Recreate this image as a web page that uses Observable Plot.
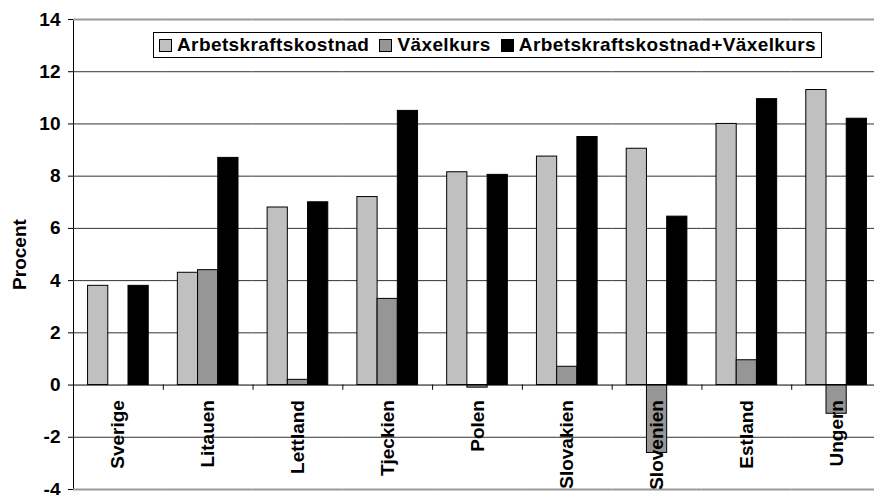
<!DOCTYPE html>
<html>
<head>
<meta charset="utf-8">
<script src="https://cdn.jsdelivr.net/npm/d3@7"></script>
<script src="https://cdn.jsdelivr.net/npm/@observablehq/plot@0.6"></script>
<style>
  html, body { margin: 0; padding: 0; background: #fff; overflow: hidden; }
  #wrap { position: relative; width: 874px; height: 495px; overflow: hidden; }
  #legend {
    position: absolute; left: 153px; top: 32px; width: 669px; height: 26px;
    box-sizing: border-box; border: 1px solid #000; background: #fff;
    display: flex; align-items: center; padding-left: 5px;
    font-family: "Liberation Sans", Arial, sans-serif; font-weight: bold;
    font-size: 19px; letter-spacing: 0.4px; color: #000; white-space: nowrap;
  }
  #legend .sw { width: 11px; height: 11px; border: 1px solid #000; margin-right: 5px; flex: none; }
  #legend .item { display: flex; align-items: center; margin-right: 10px; }
</style>
</head>
<body>
<div id="wrap"><div id="chart"></div><div id="legend"></div></div>
<script>
const categories = ["Sverige", "Litauen", "Lettland", "Tjeckien", "Polen", "Slovakien", "Slovenien", "Estland", "Ungern"];
const series = ["Arbetskraftskostnad", "Växelkurs", "Arbetskraftskostnad+Växelkurs"];
const arbetskraftskostnad = [3.8, 4.3, 6.8, 7.2, 8.15, 8.75, 9.05, 10.0, 11.3];
const vaxelkurs = [0, 4.4, 0.2, 3.3, -0.1, 0.7, -2.6, 0.95, -1.1];
const totalt = [3.8, 8.7, 7.0, 10.5, 8.05, 9.5, 6.45, 10.95, 10.2];
const yTicks = [-4, -2, 0, 2, 4, 6, 8, 10, 12, 14];
const colors = ["#c0c0c0", "#969696", "#000000"];

const seriesValues = [arbetskraftskostnad, vaxelkurs, totalt];
const rows = categories.flatMap((c, i) =>
  series.map((s, j) => ({category: c, series: s, value: seriesValues[j][i]}))
).filter(d => d.value !== 0);

const W = 874, H = 495, ML = 73, MR = -7;
const fxStep = (W - ML - MR) / categories.length;

const chart = Plot.plot({
  width: W, height: H,
  marginTop: 19, marginBottom: 6, marginLeft: ML, marginRight: MR,
  style: {fontFamily: "'Liberation Sans', Arial, sans-serif", fontWeight: "bold", fontSize: "19px", background: "white", color: "black"},
  fx: {domain: categories, padding: 0, round: false, axis: null, label: null},
  x: {domain: series, paddingInner: 0, paddingOuter: 0.72, round: false, axis: null, label: null},
  y: {domain: [-4, 14], ticks: yTicks, tickFormat: d => String(d), tickSize: 5, tickPadding: 8,
      label: "Procent", labelAnchor: "center", labelArrow: false, labelOffset: 61, line: true},
  color: {domain: series, range: colors},
  marks: [
    Plot.ruleY(yTicks.filter(t => t > -4 && t < 14 && t !== 0), {stroke: "#333"}),
    Plot.ruleY([14, -4], {stroke: "#999", strokeWidth: 2}),
    Plot.barY(rows, {fx: "category", x: "series", y: "value", fill: "series", stroke: "#000", strokeWidth: 1}),
    Plot.ruleY([0], {stroke: "#000"}),
    Plot.ruleX(categories.slice(1), {fx: d => d, x: null, y1: 0, y2: -0.2, dx: -fxStep / 2, stroke: "#000"}),
    Plot.text(categories, {fx: d => d, y: () => 0, text: d => d, rotate: -90, textAnchor: "end", dy: 15, fill: "#000"})
  ]
});
document.getElementById("chart").appendChild(chart);

const legend = document.getElementById("legend");
series.forEach((s, j) => {
  const item = document.createElement("span");
  item.className = "item";
  const sw = document.createElement("span");
  sw.className = "sw";
  sw.style.background = colors[j];
  const tx = document.createElement("span");
  tx.textContent = s;
  item.appendChild(sw); item.appendChild(tx);
  legend.appendChild(item);
});
</script>
</body>
</html>
